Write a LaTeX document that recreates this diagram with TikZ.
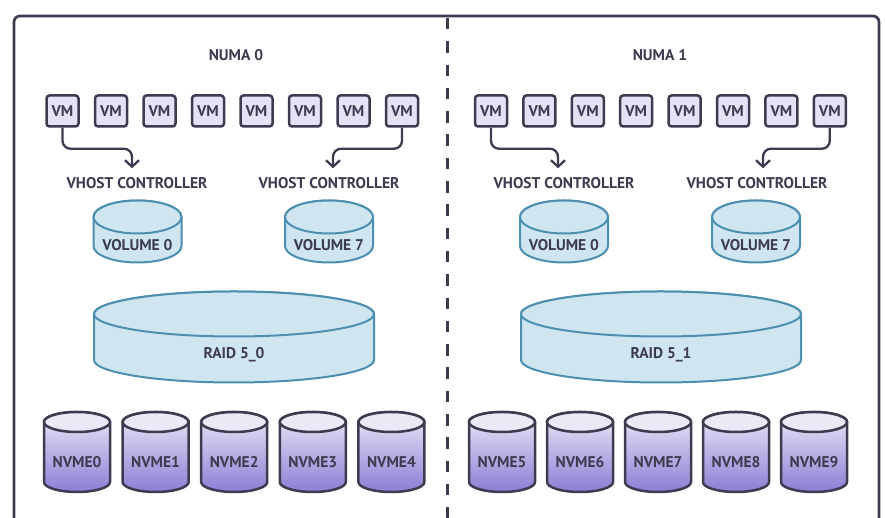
\documentclass[tikz,border=0pt]{standalone}
\usepackage{fontspec}
\setmainfont{PT Sans}
\usetikzlibrary{arrows.meta,calc}

\definecolor{ink}{HTML}{3D3B4F}
\definecolor{vmfill}{HTML}{E4E2F4}
\definecolor{volfill}{HTML}{CFE6F1}
\definecolor{voledge}{HTML}{4D8FAE}
\definecolor{nvtop}{HTML}{EBE9F6}
\definecolor{nvbot}{HTML}{8C7ED6}

% name, x, y (centre of lid), rx, ry, height, body style, lid style, text
\newcommand\drum[9]{%
  \path[#7] ({#2-#4},{#3}) -- ++(0,-#6)
    arc[start angle=180,end angle=360,x radius=#4,y radius=#5] -- ++(0,#6)
    arc[start angle=0,end angle=180,x radius=#4,y radius=#5] -- cycle;
  \path[#8] ({#2},{#3}) ellipse[x radius=#4,y radius=#5];
  \node[lbl] (#1) at ({#2},{#3-#6/2-#5/2-5}) {#9};
}

\begin{document}
\begin{tikzpicture}[x=1pt,y=1pt,>={Straight Barb[length=6.5pt,width=14pt]},
  lbl/.style={font=\bfseries\fontsize{15.5}{18}\selectfont,text=ink,
    text height=11pt,text depth=0pt,inner sep=0pt},
  vm/.style={lbl,draw=ink,fill=vmfill,line width=2.5pt,rounded corners=3pt,
    minimum width=32pt,minimum height=31pt},
  vol/.style={draw=voledge,fill=volfill,line width=2pt},
  nvbody/.style={draw=ink,line width=2.5pt,top color=nvtop,bottom color=nvbot},
  nvlid/.style={draw=ink,fill=nvtop,line width=2.5pt},
  link/.style={->,draw=ink,line width=2.3pt,rounded corners=8pt}]
  \useasboundingbox (0,0) rectangle (885,518);

  \draw[ink,line width=2.7pt,rounded corners=6pt] (14,-5) -- (14,502) -- (879,502) -- (879,-5);
  \draw[ink,line width=3pt,dash pattern=on 11.5pt off 11.8pt] (447,500) -- (447,-5);

  \node[lbl] (numa0) at (236,463) {NUMA 0};
  \node[lbl] (numa1) at (660,463) {NUMA 1};

  \foreach \i in {1,...,8} {
    \node[vm] (L-vm\i) at ({62.5+48.5*(\i-1)},407) {VM};
    \node[vm] (R-vm\i) at ({491+48.4*(\i-1)},407) {VM};
  }

  \node[lbl] (L-ctl1) at (137,335) {VHOST CONTROLLER};
  \node[lbl] (L-ctl2) at (329,335) {VHOST CONTROLLER};
  \node[lbl] (R-ctl1) at (564,335) {VHOST CONTROLLER};
  \node[lbl] (R-ctl2) at (757,335) {VHOST CONTROLLER};

  \draw[link] (L-vm1.south) -- ++(0,-21) -| ([xshift=-5pt,yshift=9pt]L-ctl1.north);
  \draw[link] (L-vm8.south) -- ++(0,-21) -| ([xshift=4pt,yshift=9pt]L-ctl2.north);
  \draw[link] (R-vm1.south) -- ++(0,-21) -| ([xshift=-6pt,yshift=9pt]R-ctl1.north);
  \draw[link] (R-vm8.south) -- ++(0,-21) -| ([xshift=6pt,yshift=9pt]R-ctl2.north);

  % volumes and raid sets
  \drum{L-vol0}{137.5}{301}{44}{16.5}{29}{vol}{vol}{VOLUME 0}
  \drum{L-vol7}{329}{301}{44}{16.5}{29}{vol}{vol}{VOLUME 7}
  \drum{R-vol0}{564}{301}{44}{16.5}{29}{vol}{vol}{VOLUME 0}
  \drum{R-vol7}{756}{301}{44}{16.5}{29}{vol}{vol}{VOLUME 7}
  \drum{L-raid}{234}{204}{140}{22.5}{46}{vol}{vol}{RAID 5\_0}
  \drum{R-raid}{661}{204}{140}{22.5}{46}{vol}{vol}{RAID 5\_1}

  % drives
  \foreach \i [evaluate=\i as \x using 77+78.6*\i] in {0,...,4} {
    \drum{nv\i}{\x}{96}{33}{10}{60}{nvbody}{nvlid}{NVME\i}
  }
  \foreach \i [evaluate=\i as \x using 502+78*(\i-5)] in {5,...,9} {
    \drum{nv\i}{\x}{96}{33}{10}{60}{nvbody}{nvlid}{NVME\i}
  }
\end{tikzpicture}
\end{document}
